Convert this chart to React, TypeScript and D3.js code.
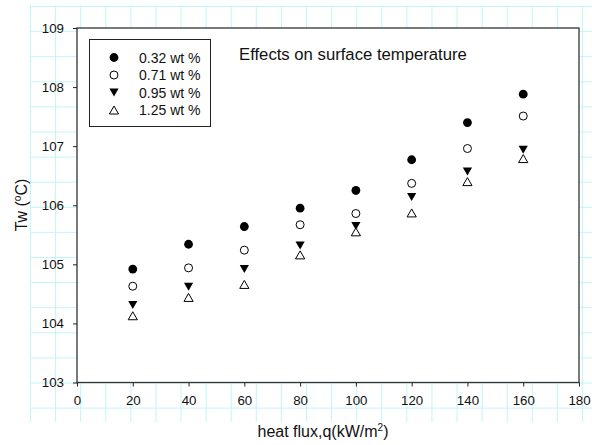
import React, { useRef, useEffect } from "react";
import * as d3 from "d3";

// values
const heatFlux = [20, 40, 60, 80, 100, 120, 140, 160];
const tw032 = [104.92, 105.34, 105.64, 105.95, 106.25, 106.77, 107.4, 107.88];
const tw071 = [104.63, 104.94, 105.24, 105.67, 105.86, 106.37, 106.96, 107.51];
const tw095 = [104.31, 104.62, 104.92, 105.32, 105.65, 106.14, 106.57, 106.94];
const tw125 = [104.13, 104.44, 104.66, 105.16, 105.55, 105.87, 106.4, 106.79];
const seriesNames = ["0.32 wt %", "0.71 wt %", "0.95 wt %", "1.25 wt %"];
const xTicks = [0, 20, 40, 60, 80, 100, 120, 140, 160, 180];
const yTicks = [103, 104, 105, 106, 107, 108, 109];

const W = 592;
const H = 445;
const plot = { left: 77, right: 579, top: 28, bottom: 382.5 };
const font = "'Liberation Sans', Arial, sans-serif";

// marker paths, centred on their box
const downTri = "M-4.6,-4L4.6,-4L0,4Z";
const upTri = "M0,-4L4.6,4L-4.6,4Z";

type Marker = "dot" | "circle" | "down" | "up";
const markers: Marker[] = ["dot", "circle", "down", "up"];

function drawMarker(g: any, kind: Marker) {
  if (kind === "dot") g.append("circle").attr("r", 4.4).attr("fill", "#000");
  else if (kind === "circle")
    g.append("circle").attr("r", 4).attr("fill", "#fff").attr("stroke", "#000").attr("stroke-width", 1);
  else if (kind === "down") g.append("path").attr("d", downTri).attr("fill", "#000");
  else g.append("path").attr("d", upTri).attr("fill", "#fff").attr("stroke", "#000").attr("stroke-width", 1);
}

const App = () => {
  const svgRef = useRef<SVGSVGElement>(null);

  useEffect(() => {
    const svg = d3.select(svgRef.current);
    svg.selectAll("*").remove();

    // graph-paper background
    const paper = svg.append("g").attr("stroke", "#c2f6f6").attr("stroke-width", 1);
    d3.range(30.5, W, 25.09).forEach((x) =>
      paper.append("line").attr("x1", x).attr("x2", x).attr("y1", 5).attr("y2", 422)
    );
    d3.range(6.5, 420, 25.1).forEach((y) =>
      paper.append("line").attr("x1", 30).attr("x2", W).attr("y1", y).attr("y2", y)
    );

    const x = d3.scaleLinear().domain([0, 180]).range([plot.left, plot.right]);
    const y = d3.scaleLinear().domain([103, 109]).range([plot.bottom, plot.top]);

    svg
      .append("rect")
      .attr("x", plot.left)
      .attr("y", plot.top)
      .attr("width", plot.right - plot.left)
      .attr("height", plot.bottom - plot.top)
      .attr("fill", "#fff")
      .attr("stroke", "#333")
      .attr("stroke-width", 1.3);

    const xAxis = d3.axisBottom(x).tickValues(xTicks).tickSize(4).tickPadding(9).tickFormat(d3.format("d"));
    const gx = svg.append("g").attr("transform", `translate(0,${plot.bottom})`).call(xAxis);
    const yAxis = d3.axisLeft(y).tickValues(yTicks).tickSize(4).tickPadding(9).tickFormat(d3.format("d"));
    const gy = svg.append("g").attr("transform", `translate(${plot.left},0)`).call(yAxis);
    [gx, gy].forEach((g) => {
      g.select(".domain").remove();
      g.selectAll("line").attr("stroke", "#222");
      g.selectAll("text").attr("fill", "#111").style("font-family", font).style("font-size", "13.3px");
    });

    const series = [tw032, tw071, tw095, tw125];
    series.forEach((vals, i) => {
      svg
        .append("g")
        .selectAll("g")
        .data(vals)
        .join("g")
        .attr("transform", (d, j) => `translate(${x(heatFlux[j])},${y(d)})`)
        .each(function () {
          drawMarker(d3.select(this), markers[i]);
        });
    });

    // legend
    const lg = svg.append("g");
    lg.append("rect")
      .attr("x", 89.5)
      .attr("y", 39.5)
      .attr("width", 121)
      .attr("height", 87)
      .attr("fill", "#fff")
      .attr("stroke", "#222")
      .attr("stroke-width", 1);
    seriesNames.forEach((name, i) => {
      const cy = 57.5 + i * 17.5;
      drawMarker(lg.append("g").attr("transform", `translate(114,${cy})`), markers[i]);
      lg.append("text")
        .attr("x", 139)
        .attr("y", cy + 5)
        .style("font-family", font)
        .style("font-size", "14px")
        .attr("fill", "#111")
        .text(name);
    });

    svg
      .append("text")
      .attr("x", 239)
      .attr("y", 60)
      .style("font-family", font)
      .style("font-size", "16.7px")
      .attr("fill", "#111")
      .text("Effects on surface temperature");

    const xl = svg
      .append("text")
      .attr("x", 323)
      .attr("y", 437)
      .attr("text-anchor", "middle")
      .style("font-family", font)
      .style("font-size", "16px")
      .attr("fill", "#111");
    xl.append("tspan").text("heat flux,q(kW/m");
    xl.append("tspan").attr("dy", -6).style("font-size", "10px").text("2");
    xl.append("tspan").attr("dy", 6).text(")");

    const yl = svg
      .append("text")
      .attr("transform", "translate(27,205) rotate(-90)")
      .attr("text-anchor", "middle")
      .style("font-family", font)
      .style("font-size", "16px")
      .attr("fill", "#111");
    yl.append("tspan").text("Tw (");
    yl.append("tspan").attr("dy", -6).style("font-size", "10px").text("o");
    yl.append("tspan").attr("dy", 6).text("C)");
  }, []);

  return (
    <svg
      ref={svgRef}
      width={W}
      height={H}
      style={{ position: "absolute", left: 0, top: 0, background: "#fff" }}
    />
  );
};

export default App;
